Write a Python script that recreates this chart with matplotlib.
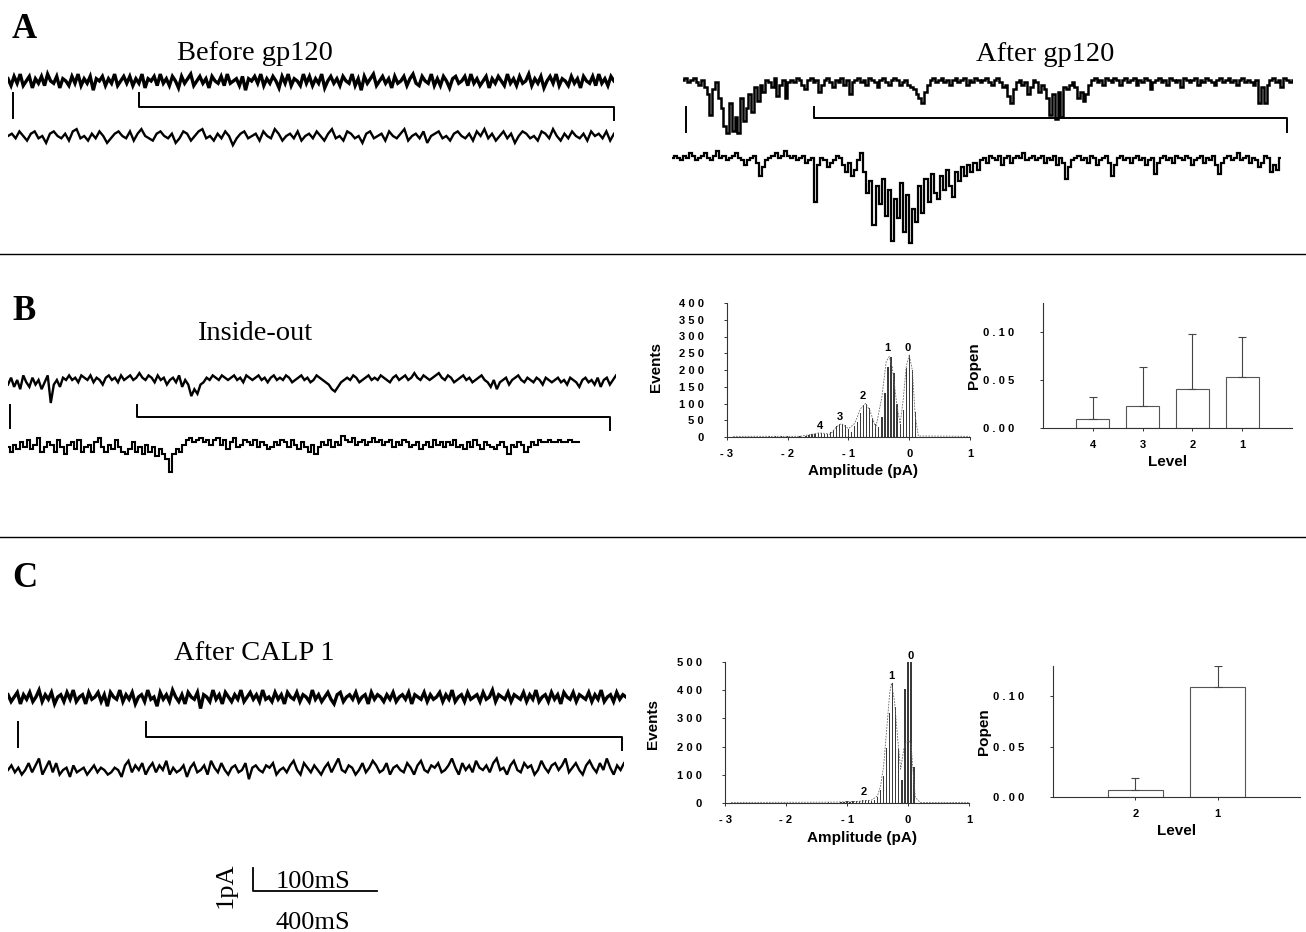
import numpy as np
import matplotlib
matplotlib.use("Agg")
from matplotlib import pyplot as plt

W, H = 1306, 932
SERIF = "Liberation Serif"
plt.rcParams["font.family"] = ["Liberation Sans", "DejaVu Sans"]

# single-channel traces, 0.1 pA per step, relative to baseline (down = inward)
before_top = [
    1, -2, 2, -1, 3, -2, 0, 2, -3, 1, -1, 2, -2, 3, 0, -1, 2, -3, 1, 0, -2, 2, -1, 3, -2, 1, -1, 2, -4, 1, 0, 2, -2, 1, -1, 3, -2, 0, 2, -1,
    2, -2, 1, -1, 3, -3, 1, 0, 2, -2, 3, -1, 1, -2, 2, 0, -3, 2, -1, 1, 3, -2, 0, 2, -1, 1, -3, 2, 0, -1, 2, -2, 3, -1, 0, 1, -2, 2, -4, 1,
    0, 2, -1, 3, -2, 1, -1, 2, 0, -3, 2, -1, 3, -2, 1, 0, -2, 3, -1, 2, -2, 1, -1, 3, -3, 0, 2, -1, 1, -2, 2, 0, -1, 3, -2, 1, -4, 2, -1, 1,
    3, -2, 0, 2, -1, 1, -3, 2, -1, 0, 2, -2, 1, 3, -1, -2, 2, 0, -1, 3, -2, 1, -2, 2, 0, -3, 1, 2, -1, 0, 2, -2, 3, -1, 1, -2, 0, 2, -3, 1,
    -1, 2, 0, -2, 3, -1, 1, -2, 2, -1, 0, 3, -2, 1, -1, 2, -3, 0, 2, -1, 3, -2, 1, 0, -2, 2, -1, 1, -3, 2, 0, -1, 2, -2, 3, -1, 1, -2, 2, 0,
]
before_bottom = [
    0, 1, -1, 2, 0, -2, 1, 2, -1, 0, -3, 1, 2, 0, -1, 1, -2, 2, 3, -1, 0, -2, 1, -1, 2, 0, -3, -1, 1, 2, 0, -1, 2, -2, 1, 3, 0, -1, -2, 1,
    2, 0, -1, 1, -3, -1, 2, 1, -2, 0, 2, 3, -1, 0, -2, 1, -1, 2, 0, -4, -1, 1, 2, -1, 0, 1, -2, 2, 0, -1, 3, 1, -2, 0, 1, -1, 2, -2, 0, 1,
    -1, 2, 0, -2, 1, 3, -1, 0, -2, 2, 1, -1, 0, -3, 1, 2, -1, 0, 1, -2, 2, 0, -1, 1, 3, -2, 0, 1, -1, 2, -3, 0, 1, 2, -1, 0, -2, 1, 2, 0,
    -1, 1, -2, 2, 0, 3, -1, 1, -2, 0, 2, -1, 1, -3, 0, 2, 1, -1, 0, -2, 2, 1, -1, 3, 0, -2, 1, -1, 2, 0, -1, 1, -2, 2, 0, 1, -1, 2, -2, 1,
]
after_top = [
    0, 1, -1, 0, 1, -1, -2, 0, -3, -6, -15, -4, -1, -8, -12, -20, -23, -10, -22, -16, -23, -8, -18, -12, -6, -14, -3, -9, -2, -5, 0, -1, -3, 1, -7, -2, 0, -8, -1, 0,
    -1, 1, 0, -2, -4, 0, 1, -1, 0, -5, -2, 0, 1, -1, -3, 0, -1, 1, -2, 0, -6, -1, 0, 1, -1, 0, -2, 1, 0, -1, -3, 0, 1, -1, -2, 0, 1, 0, -2, -1,
    0, -2, -3, -4, -6, -8, -10, -5, -2, 0, 1, -1, 0, 1, -1, 0, -2, 0, 1, -1, 0, 1, -2, 0, -1, 1, 0, -1, 0, 1, -1, -2, 0, 1, -1, -3, -2, -7, -10, -4,
    -1, 0, -2, -1, -6, -3, 0, -1, -5, -2, -4, -8, -15, -6, -17, -5, -16, -3, -4, -2, -1, -3, -8, -5, -9, -6, -2, 0, 1, -1, 0, -2, 1, 0, -1, 1, 0, -2, 0, 1,
    -1, 0, 1, -2, 0, -1, 1, 0, -4, -1, 0, 1, -1, 0, -2, 1, 0, -1, 0, -3, 1, 0, -1, 0, 1, -2, 0, -1, 1, 0, -1, -2, 0, 1, -1, 0, 1, -1, 0, -2,
    0, 1, -1, 0, -1, -2, 0, -10, -3, -10, -2, 0, 1, -1, 0, -3, 1, 0, -1, 0,
]
after_bottom = [
    0, 1, 0, -1, 1, 0, 2, 1, -1, 0, 1, 2, 0, -1, 1, 3, 0, 1, -1, 0, 1, 2, 0, -1, -3, -1, 0, 1, -2, -8, -4, -1, 0, 1, 2, 0, 1, 3, 1, 0,
    1, -1, 0, 1, -2, -1, 0, -19, -3, 0, -1, -4, -2, -1, 1, 0, -3, -6, -2, -8, -5, -1, 2, -6, -15, -10, -29, -12, -20, -9, -25, -14, -36, -18, -26, -11, -32, -16, -37, -22,
    -28, -12, -24, -9, -19, -7, -15, -18, -8, -14, -5, -12, -17, -6, -10, -4, -8, -3, -6, -2, -5, -1, 0, -2, 1, 0, -1, 1, -3, 0, 1, -2, 0, 1, 0, 2, -1, 0, 1, -1,
    0, 1, -2, 0, -1, 1, -3, 0, -2, -9, -4, -1, 0, 1, -1, 0, -2, 1, 0, -3, -1, 0, 1, -2, -8, -3, 0, 1, -1, 0, -2, 0, 1, -1, 0, -3, -1, 0, -7, -2,
    0, 1, -1, 0, -2, 1, 0, -1, 1, 0, -3, -1, 0, 1, -2, 0, -1, 1, -3, -7, -2, 0, 1, -1, 0, 2, -1, 0, 1, -2, 0, -1, -4, -2, 1, 0, -6, -3, -5, 0,
]
inside_top = [
    -2, 1, -3, 0, -4, 2, -1, -3, 1, -2, 0, -4, -1, 2, -10, -2, 0, -3, 1, 0, 2, 0, 1, -1, 2, 1, 0, 2, -1, 1, 0, -2, 1, 2, 0, 1, -1, 2, 0, 1,
    2, 0, 1, 3, 1, 0, 2, 1, -1, 2, 0, 1, -2, 0, 1, -1, 2, -3, 0, -2, -7, -4, -6, -2, -1, 1, 0, 2, 1, 0, 2, 1, 0, 1, 2, 0, 1, -1, 2, 1,
    0, 1, 2, 0, 1, -1, 1, 2, 0, 1, 0, 2, 1, -1, 0, 1, 2, 0, 1, -1, 0, 2, 1, 0, -1, -2, -4, -5, -3, -1, 0, 1, 0, 2, 1, -1, 0, 1, 2, 0,
    1, 0, 2, 1, 0, -1, 1, 2, 0, 1, 2, 0, 1, 3, 1, 0, 2, 1, 0, 1, 2, 3, 1, 0, 2, 1, -1, 0, 1, 2, 0, 1, -1, 0, 1, 2, 0, -1, -3, 0,
    -4, -1, 0, 1, -2, 0, 1, 2, 0, -1, 1, 0, -1, 1, 0, -2, 1, 0, -1, 0, 1, -1, 0, -2, 1, 0, -1, -3, 0, 1, -1, 0, -2, 1, -3, 0, 1, -2, 0, 2,
]
inside_bottom = [
    0, -2, 1, -1, 2, 0, 3, -1, 1, 4, -2, 0, 2, 1, -2, 3, 0, -3, 1, 2, -1, 3, -2, 0, 1, -2, 2, 4, 0, -2, 1, -1, 3, 0, -2, -3, -1, 2, -2, 0,
    -3, 1, -2, 0, -4, -1, -3, -5, -11, -3, -1, -2, 1, 3, 4, 2, 3, 4, 2, 3, 1, 3, 4, 1, 3, -1, 2, 4, 0, 1, 3, 2, 1, 3, 0, 2, 1, -1, 0, 2,
    1, 3, 2, 0, 3, 1, -1, 2, 0, -2, 1, -3, 0, 2, 1, 3, 0, 2, 1, 5, 3, 2, 4, 1, 2, 3, 1, 2, 4, 2, 3, 1, 2, 3, 0, 2, 1, 3, 2, 0,
    1, 2, -1, 1, 2, 0, 3, 1, 2, 0, 2, 1, 3, 0, 1, -1, 2, 0, 3, 1, -1, 2, 1, 0, -1, 1, 2, 0, -3, 1, 0, 2, 1, -2, 0, 2, 1, 3, 2, 2,
    3, 2, 2, 3, 2, 2, 3, 2, 2, 2,
]
calp_top = [
    1, -2, 0, 2, -3, 1, -1, 2, -2, 0, 3, -2, 1, -1, 2, -3, 0, 1, -2, 2, -1, 3, -2, 0, 1, -3, 2, -1, 0, 2, -2, 1, -4, 2, 0, -1, 3, -2, 1, -1,
    2, -3, 0, 1, -2, 3, -1, 0, -4, 2, -1, 1, -2, 3, 0, -2, 1, -3, 2, 0, -1, 2, -5, 1, 0, -2, 3, -1, 1, -3, 2, 0, -2, 1, -1, 3, -2, 0, 2, -1,
    1, -2, 3, -1, 0, -2, 2, -1, 1, -3, 2, 0, -1, 2, -2, 1, 0, -2, 3, -1, 1, -2, 0, 2, -1, -3, 1, 2, -2, 0, 1, -1, 2, -2, 0, 1, -3, 2, -1, 1,
    0, -2, 1, -1, 2, -2, 0, 1, -1, 2, -3, 1, 0, -1, 2, -2, 1, -1, 0, 2, -2, 1, -1, 3, -2, 0, 1, -2, 2, -1, 0, 1, -2, 2, -1, 0, 3, -2, 1, 0,
    -1, 2, -2, 1, 0, -1, 2, -2, 1, -1, 3, -2, 0, 1, -2, 2, -1, 1, -3, 2, 0, -1, 2, -2, 1, 0, -1, 2, -2, 1, -1, 3, -2, 0, 1, -2, 2, -1, 1, 0,
]
calp_bottom = [
    0, 2, -1, 1, -2, 0, 3, -1, 2, 5, -2, 1, 4, -1, 3, -2, 0, 1, -3, 2, -1, 0, 1, -2, 0, 2, -1, 1, 0, -2, -1, 1, 0, -3, 2, 4, -1, 2, 0, 3,
    -2, 1, 3, -1, 2, 0, 4, -2, 1, -1, 0, 2, -3, 1, 3, -1, 0, 2, -2, 4, 1, -1, 3, 0, -2, 1, 2, -1, 0, 3, -4, 1, 2, 0, -1, 2, 1, 3, -2, 0,
    1, -1, 2, 4, 0, -2, 3, 1, -1, 2, 0, -2, 1, 3, -1, 2, 5, 0, -1, 2, 1, -2, 0, 3, -1, 1, 4, 2, -1, 0, 3, -2, 1, 2, 0, -1, 3, 1, -2, 2,
    4, 0, -1, 2, 1, 3, -1, 0, 2, 5, 1, -2, 3, 0, 2, -1, 4, 1, 0, 2, -1, 3, 5, 0, 1, -2, 2, 4, 0, -1, 3, 1, 2, -2, 0, 4, 1, -1, 2, 3,
    0, 2, 5, -1, 1, 3, 0, -2, 2, 4, 1, -1, 3, 0, 5, 1, -2, 2, 0, 3,
]

# amplitude histograms (pA, events)
hist_b_amp = [-2.3, -2.2, -2.1, -2.0, -1.9, -1.8, -1.7, -1.65, -1.6, -1.55, -1.5, -1.45, -1.4, -1.35, -1.3,
              -1.25, -1.2, -1.15, -1.1, -1.05, -1.0, -0.95, -0.9, -0.85, -0.8, -0.75, -0.7, -0.65, -0.6,
              -0.55, -0.5, -0.45, -0.4, -0.35, -0.3, -0.25, -0.2, -0.15, -0.1, -0.05, 0.0, 0.05, 0.1]
hist_b_events = [2, 3, 2, 2, 1, 2, 4, 5, 8, 10, 11, 12, 10, 9, 14, 22, 32, 38, 40, 36, 24, 16, 32, 46, 72,
                 95, 100, 86, 58, 38, 30, 60, 130, 210, 240, 190, 100, 40, 80, 205, 245, 200, 75]
fit_b_amp = [-2.9, -1.8, -1.6, -1.5, -1.4, -1.3, -1.2, -1.12, -1.0, -0.9, -0.8, -0.72, -0.65, -0.55, -0.45,
             -0.38, -0.33, -0.28, -0.2, -0.15, -0.1, -0.05, 0.0, 0.05, 0.1, 0.15, 1.0]
fit_b_events = [2, 2, 8, 12, 11, 8, 30, 40, 25, 40, 85, 100, 80, 28, 120, 225, 240, 210, 90, 40, 110, 210,
                245, 200, 60, 3, 2]
peak_b_names = ["4", "3", "2", "1", "0"]
peak_b_amp = [-1.47, -1.14, -0.76, -0.36, -0.02]
peak_b_events = [18, 45, 108, 250, 250]

hist_c_amp = [-2.8, -2.4, -2.0, -1.6, -1.3, -1.1, -1.05, -1.0, -0.95, -0.9, -0.85, -0.8, -0.75, -0.7, -0.65,
              -0.6, -0.55, -0.5, -0.45, -0.4, -0.35, -0.3, -0.25, -0.2, -0.15, -0.1, -0.05, 0.0, 0.05, 0.1]
hist_c_events = [1, 1, 1, 1, 2, 4, 5, 6, 5, 6, 7, 8, 10, 12, 10, 8, 10, 20, 45, 95, 195, 320, 425, 340, 190,
                 80, 405, 500, 500, 128]
fit_c_amp = [-2.9, -1.2, -0.8, -0.6, -0.5, -0.45, -0.4, -0.35, -0.3, -0.27, -0.22, -0.17, -0.12, -0.07,
             -0.03, 0.02, 0.05, 0.08, 0.12, 0.2, 1.0]
fit_c_events = [2, 3, 6, 10, 25, 60, 130, 260, 390, 425, 360, 230, 120, 190, 215, 220, 210, 120, 20, 2, 2]
peak_c_names = ["2", "1", "0"]
peak_c_amp = [-0.72, -0.27, 0.05]
peak_c_events = [22, 432, 505]

# open probability per conductance level
popen_b_levels = ["4", "3", "2", "1"]
popen_b = [0.0095, 0.023, 0.041, 0.053]
popen_b_err = [0.0225, 0.040, 0.057, 0.042]
popen_c_levels = ["2", "1"]
popen_c = [0.0066, 0.109]
popen_c_err = [0.0124, 0.021]


def rect(x0, y0, x1, y1):
    return [x0 / W, 1 - y1 / H, (x1 - x0) / W, (y1 - y0) / H]


def add_trace(fig, vals, x0, x1, ybase, lw, steps=False):
    u = 2.3  # px per 0.1 pA
    ax = fig.add_axes(rect(x0, ybase - 8 * u, x1, ybase + 42 * u))
    ax.plot(np.arange(len(vals)), np.array(vals) / 10, color="black", lw=lw,
            drawstyle="steps-mid" if steps else "default", solid_joinstyle="miter")
    ax.set_xlim(0, len(vals) - 1)
    ax.set_ylim(-4.2, 0.8)
    ax.axis("off")


def style_axes(ax):
    ax.set_facecolor("none")
    for s in ["top", "right"]:
        ax.spines[s].set_visible(False)
    for s in ["left", "bottom"]:
        ax.spines[s].set_color("#333333")
        ax.spines[s].set_linewidth(0.8)
    ax.tick_params(length=2.5, width=0.7, color="#333333", labelsize=8, pad=4)


def add_hist(fig, box, amp, events, fit_amp, fit_events, names, pk_amp, pk_events, ymax, yticks, ylabel_y):
    ax = fig.add_axes(rect(*box))
    style_axes(ax)
    ax.bar(amp, events, width=0.02, color="#3a3a3a", linewidth=0)
    ax.plot(fit_amp, fit_events, color="#666666", lw=0.6, ls=(0, (2, 1.5)))
    for n, a, e in zip(names, pk_amp, pk_events):
        ax.text(a, e, n, ha="center", va="bottom", fontsize=8, fontweight="bold")
    ax.set_xlim(-3, 1)
    ax.set_ylim(0, ymax)
    ax.set_xticks([-3, -2, -1, 0, 1])
    ax.set_xticklabels(["- 3", "- 2", "- 1", "0", "1"], fontweight="bold")
    ax.set_yticks(yticks)
    ax.set_yticklabels([" ".join(str(t)) for t in yticks], fontweight="bold")
    ax.tick_params(axis="y", pad=14)
    ax.tick_params(axis="x", pad=6)
    ax.set_xlabel("Amplitude (pA)", fontsize=11, fontweight="bold", labelpad=2)
    ax.xaxis.set_label_coords(0.56, -0.2)
    ax.set_ylabel("Events", fontsize=11, fontweight="bold")
    ax.yaxis.set_label_coords(-0.265, ylabel_y)
    return ax


def add_popen(fig, box, levels, vals, errs, xmax):
    ax = fig.add_axes(rect(*box))
    style_axes(ax)
    x = np.arange(1, len(levels) + 1)
    ax.bar(x, vals, width=0.66, facecolor="white", edgecolor="#555555", linewidth=0.8)
    ax.errorbar(x, vals, yerr=[np.zeros(len(errs)), errs], fmt="none", ecolor="#444444",
                elinewidth=0.8, capsize=3, capthick=0.8)
    ax.set_xlim(0, xmax)
    ax.set_ylim(0, 0.13)
    ax.set_xticks(x)
    ax.set_xticklabels(levels, fontweight="bold")
    ax.set_yticks([0, 0.05, 0.10])
    ax.set_yticklabels(["0 . 0 0", "0 . 0 5", "0 . 1 0"], fontweight="bold")
    ax.tick_params(axis="y", pad=18)
    ax.tick_params(axis="x", pad=6)
    ax.set_xlabel("Level", fontsize=11, fontweight="bold", labelpad=4)
    ax.set_ylabel("Popen", fontsize=11, fontweight="bold", labelpad=2)
    return ax


fig = plt.figure(figsize=(W / 100, H / 100), dpi=100)
ov = fig.add_axes([0, 0, 1, 1])
ov.set_xlim(0, W)
ov.set_ylim(H, 0)
ov.axis("off")

# panel letters and titles
for letter, yb in [("A", 38), ("B", 320), ("C", 587)]:
    ov.text(12, yb, letter, family=SERIF, fontweight="bold", fontsize=25, va="baseline")
for title, xc, yb in [("Before gp120", 255, 60), ("After gp120", 1045, 61),
                      ("Inside-out", 255, 340), ("After CALP 1", 254, 660)]:
    ov.text(xc, yb, title, family=SERIF, fontsize=20.5, ha="center", va="baseline")

# separators
for ys in [254, 537]:
    ov.plot([0, W], [ys, ys], color="black", lw=1.0)

# scale marks and zoom brackets for each trace pair
marks = [
    (13, 93, 118, 139, 614, 93, 107, 120),
    (686, 107, 132, 814, 1287, 107, 118, 132),
    (10, 405, 428, 137, 610, 405, 417, 430),
    (18, 722, 747, 146, 622, 722, 737, 750),
]
for sx, sy0, sy1, bx0, bx1, by0, by1, by2 in marks:
    ov.plot([sx, sx], [sy0, sy1], color="black", lw=1.4)
    ov.plot([bx0, bx0, bx1, bx1], [by0, by1, by1, by2], color="black", lw=1.4)

add_trace(fig, before_top, 8, 614, 81, 2.4)
add_trace(fig, before_bottom, 8, 614, 136, 1.7)
add_trace(fig, after_top, 683, 1293, 80, 1.8, steps=True)
add_trace(fig, after_bottom, 672, 1281, 158, 1.6, steps=True)
add_trace(fig, inside_top, 8, 616, 380, 1.7)
add_trace(fig, inside_bottom, 8, 580, 447, 1.5, steps=True)
add_trace(fig, calp_top, 8, 626, 697, 2.4)
add_trace(fig, calp_bottom, 8, 624, 770, 1.7)

add_hist(fig, (727, 303, 970, 437), hist_b_amp, hist_b_events, fit_b_amp, fit_b_events,
         peak_b_names, peak_b_amp, peak_b_events, 400, [0, 50, 100, 150, 200, 250, 300, 350, 400], 0.52)
add_hist(fig, (725, 662, 969, 803), hist_c_amp, hist_c_events, fit_c_amp, fit_c_events,
         peak_c_names, peak_c_amp, peak_c_events, 500, [0, 100, 200, 300, 400, 500], 0.56)
add_popen(fig, (1043, 303, 1292, 428), popen_b_levels, popen_b, popen_b_err, 5)
add_popen(fig, (1053, 666, 1300, 797), popen_c_levels, popen_c, popen_c_err, 3)

# time / current scale
ov.plot([253, 253, 377], [868, 891, 891], color="black", lw=1.3)
ov.text(226, 885, "1pA", family=SERIF, fontsize=19, rotation=90, ha="center", va="center")
ov.text(313, 888, "100mS", family=SERIF, fontsize=19, ha="center", va="baseline")
ov.text(313, 929, "400mS", family=SERIF, fontsize=19, ha="center", va="baseline")

fig.savefig("out.png", dpi=100)
plt.close(fig)
